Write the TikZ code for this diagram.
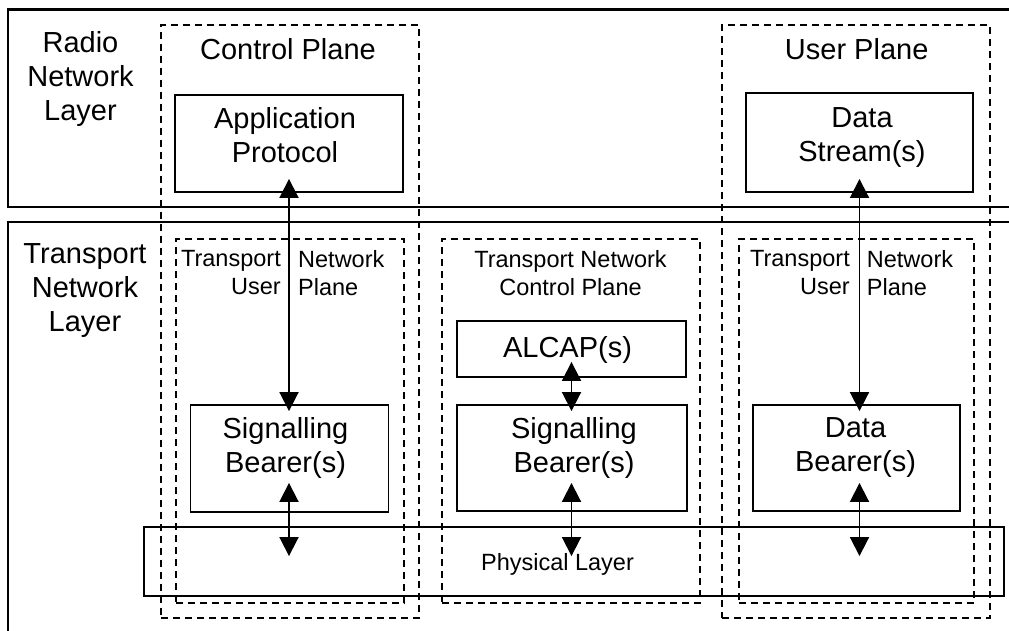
\documentclass[tikz,border=0pt]{standalone}
\usepackage{fontspec}
\setmainfont{Liberation Sans}
\usetikzlibrary{arrows.meta}
\tikzset{
  layer/.style={ % outer frame of a network layer
    draw, rectangle, line width=2.8pt, inner sep=0pt
  },
  plane/.style={ % dashed frame of a plane
    draw, rectangle, dash pattern=on 7pt off 5pt,
    line width=1.9pt, inner sep=0pt
  },
  block/.style={ % image of a protocol block
    draw, rectangle, line width=1.9pt, inner sep=0pt
  },
  big/.style={
    font=\fontsize{29}{34}\selectfont, inner sep=0pt, align=center
  },
  small/.style={
    font=\fontsize{23.5}{28.3}\selectfont, inner sep=0pt
  },
  link/.style={
    line width=1.9pt,
    {Triangle[width=19pt,length=19pt]}-{Triangle[width=19pt,length=19pt]}
  }
}
\begin{document}
\begin{tikzpicture}[x=1pt, y=-1pt]
      \useasboundingbox (0,0) rectangle (1009,631);
      \clip (0,0) rectangle (1009,631);

      % layers
      \node[layer, minimum width=1022pt, minimum height=197.5pt] (rnl) at (519,108.25) {};
      \node[layer, minimum width=1022pt, minimum height=438pt] (tnl) at (519,441) {};
      \node[big, anchor=north] (rnl_text) at (80.5,30.9) {Radio\\Network\\Layer};
      \node[big, anchor=north] (tnl_text) at (85,243.7) {Transport\\Network\\Layer};

      % planes
      \node[plane, minimum width=258pt, minimum height=593pt] (cplane) at (290,321.5) {};
      \node[plane, minimum width=268pt, minimum height=593pt] (uplane) at (856,321.5) {};
      \node[plane, minimum width=228pt, minimum height=364pt] (tunp_l) at (290,421) {};
      \node[plane, minimum width=258pt, minimum height=364pt] (tncp) at (571,421) {};
      \node[plane, minimum width=235pt, minimum height=364pt] (tunp_r) at (856.5,421) {};
      \node[big, anchor=base] (cplane_text) at (288,60) {Control Plane};
      \node[big, anchor=base] (uplane_text) at (856.7,60) {User Plane};
      \node[small, align=right, anchor=north east] (tunp_l_a) at (281,249.9) {Transport\\User};
      \node[small, align=left, anchor=north west] (tunp_l_b) at (298,249.9) {Network\\Plane};
      \node[small, align=center, anchor=north] (tncp_text) at (570.5,249.9) {Transport Network\\Control Plane};
      \node[small, align=right, anchor=north east] (tunp_r_a) at (850,249.9) {Transport\\User};
      \node[small, align=left, anchor=north west] (tunp_r_b) at (866.7,249.9) {Network\\Plane};

      % blocks
      \node[block, minimum width=228pt, minimum height=97pt] (app) at (289,143.5) {};
      \node[block, minimum width=227pt, minimum height=99pt] (dstream) at (859.5,142.5) {};
      \node[block, minimum width=229pt, minimum height=56pt] (alcap) at (571.5,349) {};
      \node[block, minimum width=198pt, minimum height=107pt] (sig_l) at (289.5,458.5) {};
      \node[block, minimum width=230pt, minimum height=106pt] (sig_m) at (572,458) {};
      \node[block, minimum width=207pt, minimum height=106pt] (dbear) at (856.5,458) {};
      \node[block, minimum width=860pt, minimum height=69pt] (phys) at (574,561.5) {};
      \node[big, anchor=north] (app_text) at (285,106.9) {Application\\Protocol};
      \node[big, anchor=north] (dstream_text) at (862,106.9) {Data\\Stream(s)};
      \node[big, anchor=base] (alcap_text) at (567.5,357.3) {ALCAP(s)};
      \node[big, anchor=north] (sig_l_text) at (285.5,417) {Signalling\\Bearer(s)};
      \node[big, anchor=north] (sig_m_text) at (574,417) {Signalling\\Bearer(s)};
      \node[big, anchor=north] (dbear_text) at (855.5,417) {Data\\Bearer(s)};
      \node[small, anchor=base] (phys_text) at (557.5,570) {Physical Layer};

      % connections
      \draw[link, shorten <=-14pt, shorten >=-7pt] (app.south) -- (app.south |- sig_l.north);
      \draw[link, shorten <=-16pt, shorten >=-7pt] (alcap.south) -- (alcap.south |- sig_m.north);
      \draw[link, shorten <=-14pt, shorten >=-7pt] (dstream.south) -- (dstream.south |- dbear.north);
      \draw[link, shorten <=-30pt, shorten >=-30pt] (app.south |- sig_l.south) -- (app.south |- phys.north);
      \draw[link, shorten <=-29pt, shorten >=-30pt] (alcap.south |- sig_m.south) -- (alcap.south |- phys.north);
      \draw[link, shorten <=-29pt, shorten >=-30pt] (dstream.south |- dbear.south) -- (dstream.south |- phys.north);
\end{tikzpicture}
\end{document}
